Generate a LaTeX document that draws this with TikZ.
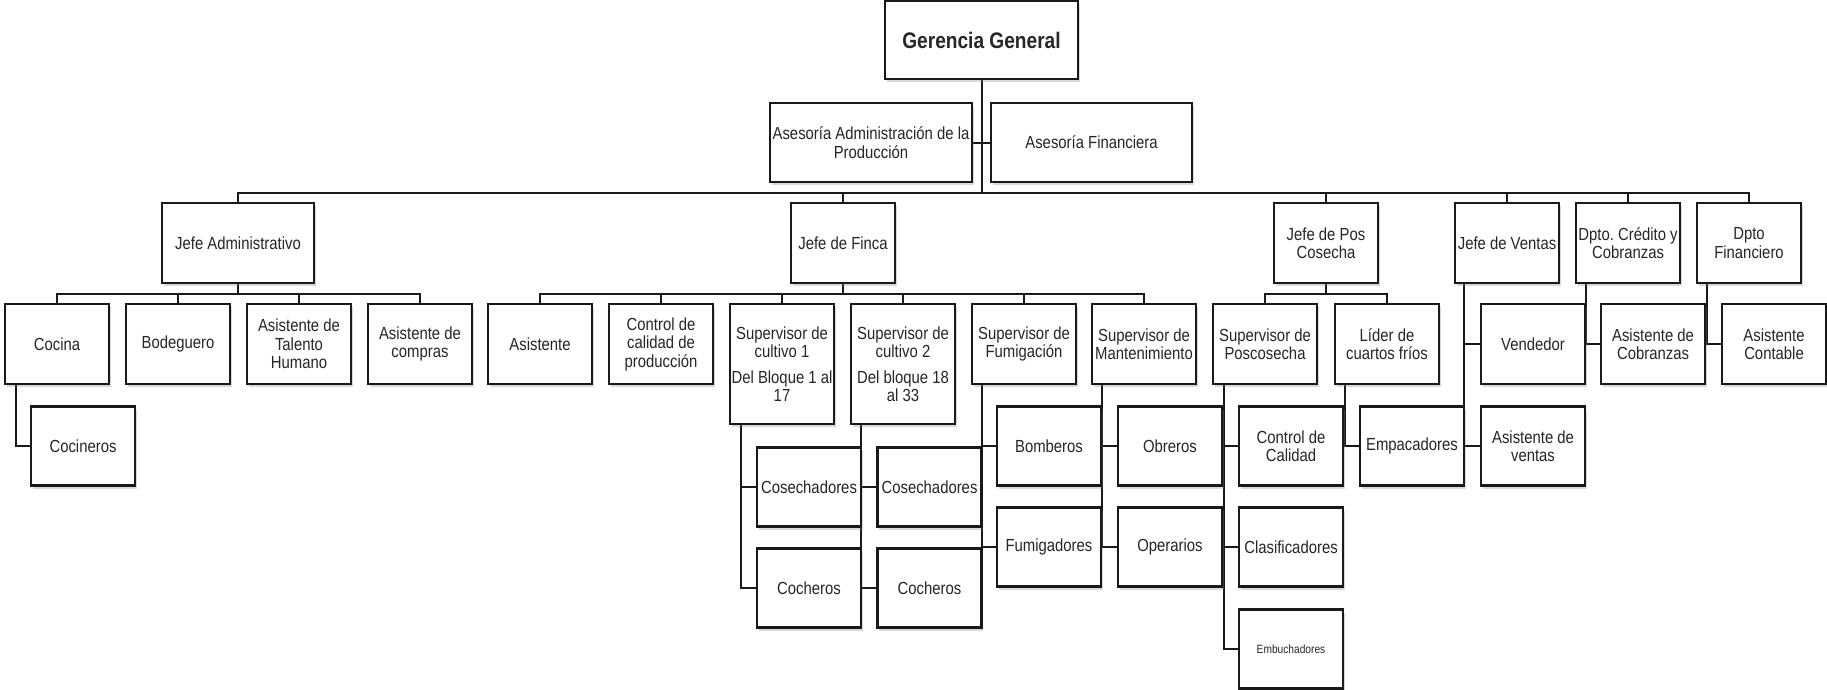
\documentclass[tikz,border=0pt]{standalone}
\usepackage{fontspec}
\setmainfont{Liberation Sans}[FakeStretch=0.85]
\usetikzlibrary{shadows,backgrounds}
\frenchspacing
\tikzset{
  box/.style={draw=black!90, line width=2.6pt, fill=white, inner sep=0pt,
    align=center, minimum width=104pt, minimum height=79pt,
    font=\fontsize{17.5}{18.5}\selectfont, text=black!85,
    drop shadow={shadow xshift=1.5pt, shadow yshift=-3pt, opacity=0.3}},
  tall/.style={minimum height=80pt},
  wire/.style={line width=2pt, draw=black!90},
}
\begin{document}
\begin{tikzpicture}[x=1pt,y=-1pt]
\useasboundingbox (0,0) rectangle (1827,690);

% top management
\node[box, minimum width=193pt, minimum height=78pt,
      font=\bfseries\fontsize{22.5}{24}\selectfont] (gg) at (981.5,40) {Gerencia General};
\node[box, minimum width=202pt] (aap) at (871,142.5) {Asesoría Administración de la\\Producción};
\node[box, minimum width=201pt] (af) at (1091.5,142.5) {Asesoría Financiera};

% department heads
\node[box, tall, minimum width=152pt] (ja) at (238,243) {Jefe Administrativo};
\node[box, tall] (jf)  at (843,243)  {Jefe de Finca};
\node[box, tall] (jpc) at (1326,243) {Jefe de Pos\\Cosecha};
\node[box, tall] (jv)  at (1507,243) {Jefe de Ventas};
\node[box, tall] (dc)  at (1628,243) {Dpto. Crédito y\\Cobranzas};
\node[box, tall] (df)  at (1749,243) {Dpto\\Financiero};

% third level
\node[box, tall] (coc)   at (57,344)   {Cocina};
\node[box, tall] (bod)   at (178,344)  {Bodeguero};
\node[box, tall] (ath)   at (299,344)  {Asistente de\\Talento\\Humano};
\node[box, tall] (acomp) at (420,344)  {Asistente de\\compras};
\node[box, tall] (asis)  at (540,344)  {Asistente};
\node[box, tall] (ccp)   at (661,344)  {Control de\\calidad de\\producción};
\node[box, minimum height=120pt] (sc1) at (782,364) {Supervisor de\\cultivo 1\\[7pt]Del Bloque 1 al\\17};
\node[box, minimum height=120pt] (sc2) at (903,364) {Supervisor de\\cultivo 2\\[7pt]Del bloque 18\\al 33};
\node[box, tall] (sf)    at (1024,344) {Supervisor de\\Fumigación};
\node[box, tall] (sm)    at (1144,344) {Supervisor de\\Mantenimiento};
\node[box, tall] (sp)    at (1265,344) {Supervisor de\\Poscosecha};
\node[box, tall] (lcf)   at (1387,344) {Líder de\\cuartos fríos};
\node[box, tall] (ven)   at (1533,344) {Vendedor};
\node[box, tall] (acob)  at (1653,344) {Asistente de\\Cobranzas};
\node[box, tall] (acont) at (1774,344) {Asistente\\Contable};

% fourth level
\node[box] (cocn)  at (83,446)    {Cocineros};
\node[box] (cos1)  at (809,487)   {Cosechadores};
\node[box] (coch1) at (809,588)   {Cocheros};
\node[box] (cos2)  at (929.5,487) {Cosechadores};
\node[box] (coch2) at (929.5,588) {Cocheros};
\node[box] (bomb)  at (1049,446)  {Bomberos};
\node[box] (fum)   at (1049,547)  {Fumigadores};
\node[box] (obr)   at (1170,446)  {Obreros};
\node[box] (ope)   at (1170,547)  {Operarios};
\node[box] (ccal)  at (1291,446)  {Control de\\Calidad};
\node[box] (clas)  at (1291,547)  {Clasificadores};
\node[box, font=\fontsize{12}{13}\selectfont] (emb) at (1291,649) {Embuchadores};
\node[box] (emp)   at (1412,446)  {Empacadores};
\node[box] (aven)  at (1533,446)  {Asistente de\\ventas};

\begin{scope}[on background layer]
  \coordinate (busA) at (0,193);
  \coordinate (busB) at (0,294);
  % general management trunk and main bus
  \draw[wire] (gg.south) -- (gg.south |- busA);
  \draw[wire] (aap.east) -- (af.west);
  \draw[wire] (ja.north) -- (ja.north |- busA) -- (df.north |- busA) -- (df.north);
  \foreach \n in {jf,jpc,jv,dc} \draw[wire] (\n.north) -- (\n.north |- busA);
  % administration
  \draw[wire] (ja.south) -- (ja.south |- busB);
  \draw[wire] (coc.north) -- (coc.north |- busB) -- (acomp.north |- busB) -- (acomp.north);
  \foreach \n in {bod,ath} \draw[wire] (\n.north) -- (\n.north |- busB);
  % farm
  \draw[wire] (jf.south) -- (jf.south |- busB);
  \draw[wire] (asis.north) -- (asis.north |- busB) -- (sm.north |- busB) -- (sm.north);
  \foreach \n in {ccp,sc1,sc2,sf} \draw[wire] (\n.north) -- (\n.north |- busB);
  % post-harvest
  \draw[wire] (jpc.south) -- (jpc.south |- busB);
  \draw[wire] (sp.north) -- (sp.north |- busB) -- (lcf.north |- busB) -- (lcf.north);
  % side branches
  \draw[wire] ([xshift=12pt]coc.south west) |- (cocn.west);
  \draw[wire] ([xshift=12pt]sc1.south west) |- (coch1.west);
  \draw[wire] ([xshift=12pt]sc1.south west) |- (cos1.west);
  \draw[wire] ([xshift=11pt]sc2.south west) |- (coch2.west);
  \draw[wire] ([xshift=11pt]sc2.south west) |- (cos2.west);
  \draw[wire] ([xshift=11pt]sf.south west) |- (fum.west);
  \draw[wire] ([xshift=11pt]sf.south west) |- (bomb.west);
  \draw[wire] ([xshift=11pt]sm.south west) |- (ope.west);
  \draw[wire] ([xshift=11pt]sm.south west) |- (obr.west);
  \draw[wire] ([xshift=12pt]sp.south west) |- (emb.west);
  \draw[wire] ([xshift=12pt]sp.south west) |- (clas.west);
  \draw[wire] ([xshift=12pt]sp.south west) |- (ccal.west);
  \draw[wire] ([xshift=11pt]lcf.south west) |- (emp.west);
  \draw[wire] ([xshift=10pt]jv.south west) |- (aven.west);
  \draw[wire] ([xshift=10pt]jv.south west) |- (ven.west);
  \draw[wire] ([xshift=11pt]dc.south west) |- (acob.west);
  \draw[wire] ([xshift=11pt]df.south west) |- (acont.west);
\end{scope}
\end{tikzpicture}
\end{document}
